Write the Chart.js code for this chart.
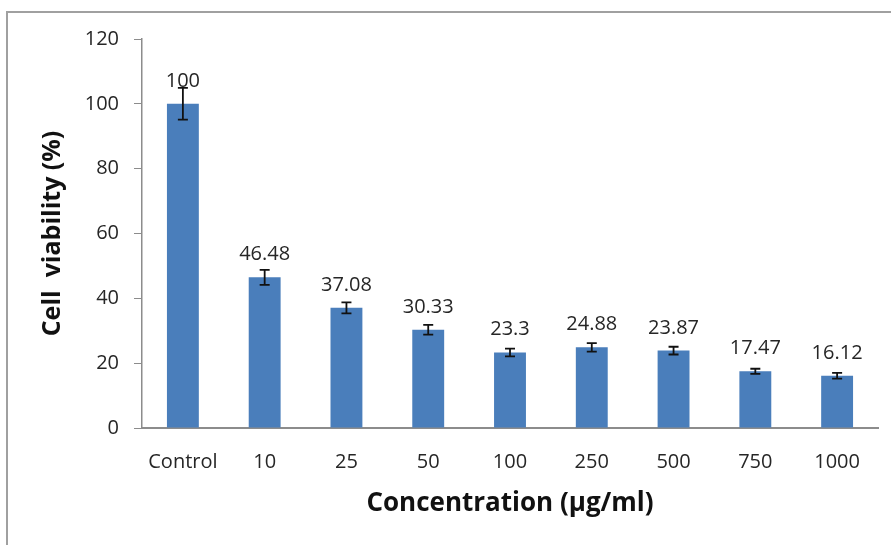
<!DOCTYPE html>
<html>
<head>
<meta charset="utf-8">
<script src="https://cdn.jsdelivr.net/npm/chart.js@4"></script>
<style>
    html, body { margin: 0; padding: 0; background: #fff; }
    #wrap { position: relative; width: 891px; height: 545px; overflow: hidden; }
    #frame { position: absolute; left: 6px; top: 11px; width: 900px; height: 600px;
             border-left: 2px solid #a0a0a0; border-top: 2px solid #a0a0a0; }
    #chart { position: absolute; left: 0; top: 0; }
</style>
</head>
<body>
<div id="wrap">
    <div id="frame"></div>
    <canvas id="chart" width="891" height="545"></canvas>
</div>
<script>
const categories = ['Control', '10', '25', '50', '100', '250', '500', '750', '1000'];
const viability = [100, 46.48, 37.08, 30.33, 23.3, 24.88, 23.87, 17.47, 16.12];
const errors = [4.9, 2.3, 1.7, 1.5, 1.2, 1.3, 1.2, 0.8, 0.9];
const yTicks = [0, 20, 40, 60, 80, 100, 120];

const barColour = '#4a7ebb';
const axisColour = '#8c8c8c';
const textColour = '#262626';
const fontFamily = '"Open Sans", "DejaVu Sans", sans-serif';

// error bars + value labels drawn on top of the bars
const errorBarPlugin = {
    id: 'errorBars',
    afterDatasetsDraw: (chart) => {
        const ctx = chart.ctx;
        const yScale = chart.scales.y;
        const meta = chart.getDatasetMeta(0);
        meta.data.forEach((bar, i) => {
            const { x, y } = bar.getProps(['x', 'y']);
            const top = yScale.getPixelForValue(viability[i] + errors[i]);
            const bottom = yScale.getPixelForValue(viability[i] - errors[i]);
            const cap = 5;

            ctx.save();
            ctx.strokeStyle = '#111';
            ctx.lineWidth = 1.8;
            ctx.beginPath();
            ctx.moveTo(x, top); ctx.lineTo(x, bottom);
            ctx.moveTo(x - cap, top); ctx.lineTo(x + cap, top);
            ctx.moveTo(x - cap, bottom); ctx.lineTo(x + cap, bottom);
            ctx.stroke();

            // value label sits a fixed distance above the bar (like Excel)
            ctx.fillStyle = textColour;
            ctx.font = '20px ' + fontFamily;
            ctx.textAlign = 'center';
            ctx.textBaseline = 'alphabetic';
            ctx.fillText(String(viability[i]), x, y - 17);
            ctx.restore();
        });
    }
};

const ctx = document.getElementById('chart').getContext('2d');
new Chart(ctx, {
    type: 'bar',
    data: {
        labels: categories,
        datasets: [{
            data: viability,
            backgroundColor: barColour,
            borderWidth: 0,
            barPercentage: 0.39,
            categoryPercentage: 1
        }]
    },
    options: {
        responsive: false,
        animation: false,
        layout: { padding: { top: 39, right: 13, left: 0, bottom: 0 } },
        plugins: {
            legend: { display: false },
            tooltip: { enabled: false }
        },
        scales: {
            x: {
                grid: { display: false },
                border: { color: axisColour, width: 2 },
                ticks: {
                    color: textColour,
                    font: { size: 20, family: fontFamily },
                    padding: 14
                },
                title: {
                    display: true,
                    text: 'Concentration (µg/ml)',
                    color: '#111',
                    font: { size: 26, weight: 'bold', family: fontFamily },
                    padding: { top: 0, bottom: 26 }
                },
                afterFit: (scale) => { scale.height = 545 - 428; }
            },
            y: {
                min: 0,
                max: 120,
                afterBuildTicks: (scale) => { scale.ticks = yTicks.map(v => ({ value: v })); },
                grid: {
                    drawOnChartArea: false,
                    drawTicks: true,
                    tickLength: 8,
                    color: axisColour
                },
                border: { color: axisColour, width: 1.5 },
                ticks: {
                    color: textColour,
                    font: { size: 20, family: fontFamily },
                    padding: 15
                },
                title: {
                    display: true,
                    text: 'Cell  viability (%)',
                    color: '#111',
                    font: { size: 25, weight: 'bold', family: fontFamily },
                    padding: { top: 38, bottom: 0 }
                },
                afterFit: (scale) => { scale.width = 142; }
            }
        }
    },
    plugins: [errorBarPlugin]
});
</script>
</body>
</html>
